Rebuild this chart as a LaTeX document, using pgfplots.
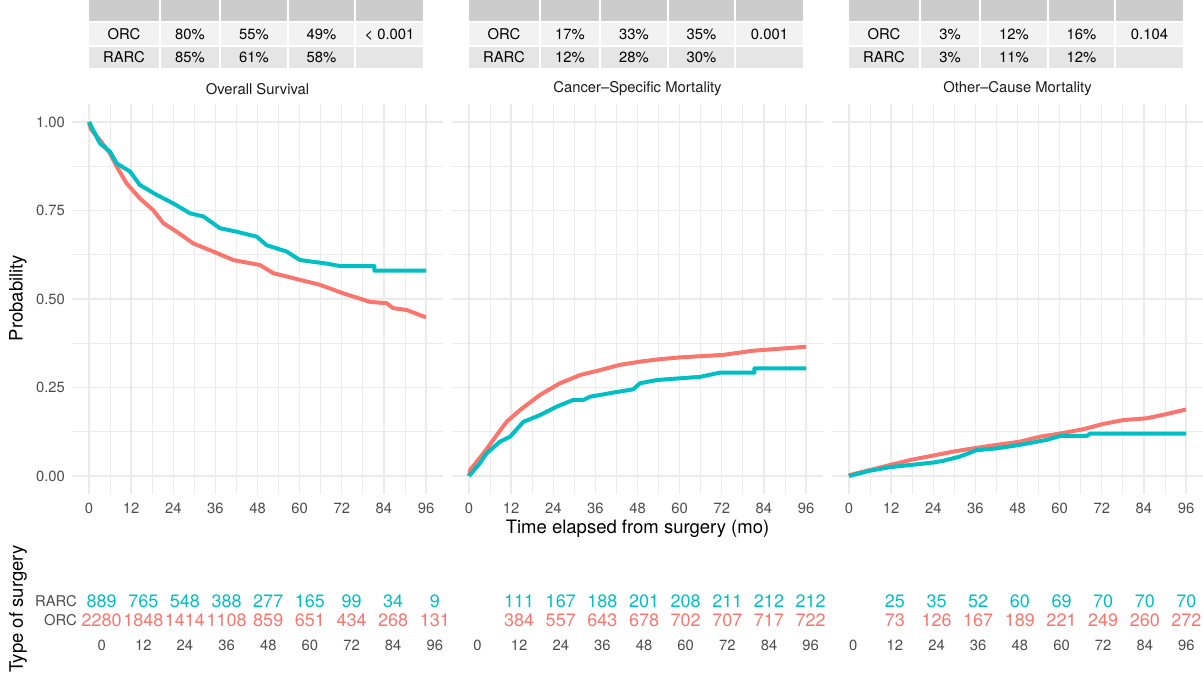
\documentclass[border=0pt]{standalone}
\usepackage{fontspec}
\setmainfont{TeX Gyre Heros}
\usepackage{pgfplots}
\pgfplotsset{compat=1.18}
\definecolor{orc}{HTML}{F8766D}
\definecolor{rarc}{HTML}{00BFC4}
\definecolor{tickc}{HTML}{4D4D4D}
\definecolor{stripc}{HTML}{1A1A1A}
\definecolor{gridc}{HTML}{EBEBEB}
\definecolor{hdr}{HTML}{CCCCCC}
\definecolor{rowa}{HTML}{F2F2F2}
\definecolor{rowb}{HTML}{E5E5E5}
\newcommand\ticksize{\fontsize{14.8bp}{17bp}\selectfont}
\newcommand\titlesize{\fontsize{18.5bp}{22bp}\selectfont}
\newcommand\risksize{\fontsize{18bp}{21bp}\selectfont}
\newcommand\tabsize{\fontsize{14.8bp}{17bp}\selectfont}
\pgfplotsset{
  mainax/.style={scale only axis, width=370.7bp, height=389.4bp,
    xmin=-4.8, xmax=100.8, ymin=-0.05, ymax=1.05,
    xtick={0,12,...,96}, minor xtick={6,18,...,90},
    ytick={0,0.25,0.5,0.75,1}, minor ytick={0.125,0.375,0.625,0.875},
    xticklabels={0,12,24,36,48,60,72,84,96},
    grid=both, major grid style={color=gridc, line width=1.4bp},
    minor grid style={color=gridc, line width=0.7bp},
    axis line style={draw=none}, major tick length=0, minor tick length=0,
    tick label style={font=\ticksize, text=tickc},
    xticklabel style={anchor=north, inner sep=0pt, yshift=-9bp},
    yticklabel style={anchor=east, inner sep=0pt, xshift=-7bp},
  },
  riskax/.style={scale only axis, width=366.5bp, height=57bp,
    xmin=-4.8, xmax=100.8, ymin=0, ymax=3,
    xtick={0,12,...,96}, xticklabels={0,12,24,36,48,60,72,84,96},
    ytick={1,2},
    axis line style={draw=none}, major tick length=0, clip=false,
    tick label style={font=\ticksize, text=tickc},
    xticklabel style={anchor=north, inner sep=0pt, yshift=-1bp},
    yticklabel style={anchor=east, inner sep=0pt, xshift=-8bp},
  },
  riskn/.style={draw=none, mark=none, nodes near coords, point meta=explicit symbolic,
    nodes near coords align=center,
    nodes near coords style={anchor=center, inner sep=0pt, font=\risksize, text=#1}},
  curve/.style={color=#1, line width=4bp, line join=round},
}
\newcommand{\SumTable}[8]{%
  \begin{scope}[x=1bp, y=1bp, xshift=#1bp]
    \foreach \a/\b in {89/159,161/219,221/287,289/354,356/423}{
      \fill[hdr] (\a,657) rectangle (\b,678);
      \fill[rowa] (\a,633) rectangle (\b,655);
      \fill[rowb] (\a,610) rectangle (\b,631);
    }
    \node[anchor=base, inner sep=0pt, font=\tabsize] at (124,638.8) {ORC};
    \node[anchor=base, inner sep=0pt, font=\tabsize] at (190,638.8) {#2};
    \node[anchor=base, inner sep=0pt, font=\tabsize] at (254,638.8) {#3};
    \node[anchor=base, inner sep=0pt, font=\tabsize] at (321.5,638.8) {#4};
    \node[anchor=base, inner sep=0pt, font=\tabsize] at (389.5,638.8) {#5};
    \node[anchor=base, inner sep=0pt, font=\tabsize] at (124,615.3) {RARC};
    \node[anchor=base, inner sep=0pt, font=\tabsize] at (190,615.3) {#6};
    \node[anchor=base, inner sep=0pt, font=\tabsize] at (254,615.3) {#7};
    \node[anchor=base, inner sep=0pt, font=\tabsize] at (321.5,615.3) {#8};
  \end{scope}}
\begin{document}
\begin{tikzpicture}
\useasboundingbox (0bp,0bp) rectangle (1203bp,678bp);
% summary tables
\SumTable{0}{80\%}{55\%}{49\%}{< 0.001}{85\%}{61\%}{58\%}
\SumTable{380}{17\%}{33\%}{35\%}{0.001}{12\%}{28\%}{30\%}
\SumTable{760}{3\%}{12\%}{16\%}{0.104}{3\%}{11\%}{12\%}
% strip titles
\node[font=\ticksize, text=stripc] at (257.5bp,589bp) {Overall Survival};
\node[font=\ticksize, text=stripc] at (637.5bp,589bp) {Cancer\textendash Specific Mortality};
\node[font=\ticksize, text=stripc] at (1017.5bp,589bp) {Other\textendash Cause Mortality};
% axis titles
\node[font=\titlesize, rotate=90] at (18bp,380bp) {Probability};
\node[font=\titlesize] at (637.5bp,149bp) {Time elapsed from surgery (mo)};
\node[font=\titlesize, rotate=90] at (18bp,69bp) {Type of surgery};

% Overall survival
\begin{axis}[mainax, at={(72.15bp,184.3bp)}, anchor=south west,
  yticklabels={0.00,0.25,0.50,0.75,1.00}]
\addplot[curve=orc] coordinates {
(0,1.00) (0.5,0.98) (3.1,0.949) (6,0.911) (7.9,0.874) (10.7,0.827) (14.5,0.784)
(18.3,0.751) (21.2,0.714) (25,0.69) (29.7,0.657) (35.4,0.634) (41.1,0.61)
(48.7,0.596) (52.5,0.573) (60.1,0.554) (65.8,0.54) (72.4,0.516) (80,0.492)
(84.8,0.488) (86.7,0.474) (90.5,0.469) (96,0.448)};
\addplot[curve=rarc] coordinates {
(0,1.00) (3.1,0.94) (6,0.916) (7.9,0.883) (11.7,0.86) (14.5,0.822) (19.3,0.794)
(24,0.77) (28.8,0.742) (32.6,0.733) (37.3,0.70) (42.1,0.69) (47.8,0.676)
(50.6,0.652) (56.3,0.634) (60.1,0.61) (67.7,0.60) (71.5,0.593) (81.3,0.593)
(81.3,0.58) (96,0.58)};
\end{axis}

% Cancer-specific mortality
\begin{axis}[mainax, at={(452.15bp,184.3bp)}, anchor=south west, yticklabels={}]
\addplot[curve=orc] coordinates {
(0,0) (0.3,0.017) (4.1,0.064) (6.9,0.102) (10.7,0.153) (14.5,0.186) (20.2,0.229)
(25.9,0.262) (31.6,0.285) (37.3,0.299) (43,0.314) (48.7,0.323) (54.4,0.33)
(60.1,0.335) (72.4,0.342) (81,0.354) (96,0.365)};
\addplot[curve=rarc] coordinates {
(0,0) (3.1,0.036) (5,0.064) (8.8,0.097) (11.7,0.111) (15.5,0.153) (20.2,0.172)
(25,0.196) (29.7,0.215) (32.6,0.215) (34.5,0.224) (40.2,0.234) (46.8,0.245)
(48.7,0.262) (53.5,0.271) (60.1,0.276) (65.8,0.28) (71.5,0.292) (81.3,0.292)
(81.3,0.304) (96,0.304)};
\end{axis}

% Other-cause mortality
\begin{axis}[mainax, at={(832.15bp,184.3bp)}, anchor=south west, yticklabels={}]
\addplot[curve=orc] coordinates {
(0,0) (0.3,0.003) (6,0.017) (11.7,0.031) (17.4,0.045) (23.1,0.056) (29.7,0.069)
(35.4,0.078) (42.1,0.088) (48.7,0.097) (54.4,0.111) (60.1,0.12) (66.7,0.132)
(72.4,0.147) (78.1,0.158) (84.8,0.163) (90.5,0.175) (96,0.188)};
\addplot[curve=rarc] coordinates {
(0,0) (6,0.015) (11.7,0.025) (17.4,0.031) (24,0.038) (26.9,0.043) (31.6,0.055)
(36.4,0.073) (42.1,0.078) (48.7,0.088) (56.3,0.102) (60.1,0.113) (67.7,0.113)
(68.7,0.12) (96,0.12)};
\end{axis}

% Risk tables
\begin{axis}[riskax, at={(85bp,39bp)}, anchor=south west, yticklabels={ORC,RARC}]
\addplot[riskn=rarc] table[meta=n] {
x y n
0 2 889
12 2 765
24 2 548
36 2 388
48 2 277
60 2 165
72 2 99
84 2 34
96 2 9
};
\addplot[riskn=orc] table[meta=n] {
x y n
0 1 2280
12 1 1848
24 1 1414
36 1 1108
48 1 859
60 1 651
72 1 434
84 1 268
96 1 131
};
\end{axis}

\begin{axis}[riskax, at={(460.8bp,39bp)}, anchor=south west, yticklabels={}]
\addplot[riskn=rarc] table[meta=n] {
x y n
12 2 111
24 2 167
36 2 188
48 2 201
60 2 208
72 2 211
84 2 212
96 2 212
};
\addplot[riskn=orc] table[meta=n] {
x y n
12 1 384
24 1 557
36 1 643
48 1 678
60 1 702
72 1 707
84 1 717
96 1 722
};
\end{axis}

\begin{axis}[riskax, at={(836.6bp,39bp)}, anchor=south west, yticklabels={}]
\addplot[riskn=rarc] table[meta=n] {
x y n
12 2 25
24 2 35
36 2 52
48 2 60
60 2 69
72 2 70
84 2 70
96 2 70
};
\addplot[riskn=orc] table[meta=n] {
x y n
12 1 73
24 1 126
36 1 167
48 1 189
60 1 221
72 1 249
84 1 260
96 1 272
};
\end{axis}
\end{tikzpicture}
\end{document}
